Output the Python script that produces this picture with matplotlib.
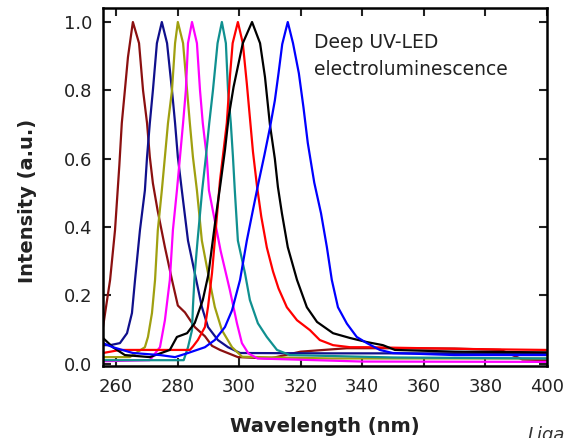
import matplotlib
matplotlib.use("Agg")
import matplotlib.pyplot as plt

# ---- data ----
maroon_x = [255.8, 258.1, 259.7, 261.1, 261.9, 262.9, 263.9, 265.5, 267.5, 268.8, 270.1, 271.0, 272.0,
            273.5, 275.9, 278.2, 280.1, 282.4, 285.6, 288.9, 291.2, 293.8, 299.6, 310, 320, 335, 350, 370, 385, 392, 400]
maroon_y = [0.107, 0.245, 0.391, 0.58, 0.704, 0.80, 0.897, 1.0, 0.938, 0.80, 0.704, 0.605, 0.528,
            0.45, 0.341, 0.245, 0.170, 0.150, 0.107, 0.080, 0.052, 0.040, 0.019, 0.015, 0.035, 0.045, 0.045, 0.044, 0.04, 0.012, 0.01]

navy_x = [255.8, 258.1, 261.3, 263.6, 265.2, 266.2, 267.8, 269.4, 270.1, 271.0, 272.0, 273.3, 274.9,
          276.6, 278.2, 279.2, 280.1, 281.4, 283.4, 285.6, 287.9, 289.9, 293.1, 296.4, 300.3, 330, 360, 400]
navy_y = [0.054, 0.054, 0.06, 0.089, 0.148, 0.245, 0.391, 0.507, 0.605, 0.704, 0.80, 0.938, 1.0,
          0.938, 0.80, 0.704, 0.605, 0.507, 0.36, 0.265, 0.166, 0.107, 0.069, 0.048, 0.031, 0.03, 0.03, 0.03]

olive_x = [255.8, 264.5, 269.4, 270.4, 271.7, 272.7, 273.6, 274.9, 275.9, 276.9, 278.2, 279.2, 280.1,
           281.8, 283.1, 284.0, 285.0, 286.3, 287.9, 289.9, 292.1, 294.4, 297.7, 301.0, 330, 400]
olive_y = [0.019, 0.019, 0.048, 0.078, 0.148, 0.245, 0.391, 0.507, 0.605, 0.704, 0.80, 0.938, 1.0,
           0.938, 0.80, 0.704, 0.605, 0.507, 0.36, 0.265, 0.166, 0.098, 0.048, 0.02, 0.015, 0.015]

magenta_x = [255.8, 271.0, 274.3, 275.9, 277.5, 278.5, 279.8, 280.8, 281.8, 282.7, 283.4, 284.7,
             286.3, 287.3, 288.2, 289.5, 290.2, 292.5, 294.0, 297.0, 299.3, 300.9, 303.0, 306.0, 340, 400]
magenta_y = [0.007, 0.01, 0.048, 0.127, 0.245, 0.391, 0.507, 0.605, 0.704, 0.80, 0.938, 1.0,
             0.938, 0.80, 0.704, 0.605, 0.507, 0.40, 0.33, 0.215, 0.118, 0.06, 0.03, 0.015, 0.006, 0.005]

teal_x = [255.8, 282.0, 283.4, 284.7, 285.0, 285.6, 286.5, 288.0, 289.2, 290.3, 291.5, 293.0, 294.4,
          295.7, 296.4, 297.3, 298.0, 298.6, 299.6, 301.9, 303.5, 306.1, 309.0, 312.3, 316.5, 350, 400]
teal_y = [0.01, 0.01, 0.048, 0.098, 0.166, 0.265, 0.36, 0.507, 0.605, 0.704, 0.80, 0.938, 1.0,
          0.938, 0.80, 0.704, 0.605, 0.507, 0.36, 0.265, 0.186, 0.118, 0.078, 0.04, 0.025, 0.018, 0.015]

red_x = [255.8, 261.3, 280.8, 284.0, 285.0, 286.6, 288.9, 289.9, 291.2, 292.1, 293.8, 294.7, 296.0,
         297.0, 297.9, 299.6, 301.2, 302.5, 303.5, 304.5, 305.8, 307.2, 309.0, 311.0, 312.8, 315.5, 318.8,
         323.0, 326.2, 330.5, 336.0, 341.5, 360, 380, 400]
red_y = [0.031, 0.04, 0.04, 0.04, 0.05, 0.069, 0.107, 0.166, 0.265, 0.36, 0.537, 0.605, 0.704,
         0.839, 0.938, 1.0, 0.938, 0.82, 0.72, 0.62, 0.52, 0.43, 0.34, 0.27, 0.22, 0.165, 0.127,
         0.098, 0.069, 0.054, 0.048, 0.048, 0.045, 0.042, 0.04]

black_x = [255.8, 259.0, 262.9, 271.0, 277.5, 279.8, 283.1, 285.6, 288.2, 290.0, 291.3, 292.6, 294.0,
           295.4, 296.6, 298.2, 301.2, 304.2, 306.8, 308.4, 310.0, 311.6, 312.6, 313.9, 315.8, 318.8,
           322.0, 325.3, 330.5, 336.0, 341.5, 346.7, 350.6, 370, 400]
black_y = [0.075, 0.048, 0.025, 0.019, 0.04, 0.078, 0.089, 0.119, 0.186, 0.26, 0.35, 0.44, 0.53,
           0.625, 0.722, 0.81, 0.938, 1.0, 0.938, 0.839, 0.70, 0.60, 0.517, 0.44, 0.341, 0.245,
           0.165, 0.122, 0.089, 0.075, 0.063, 0.054, 0.04, 0.035, 0.033]

blue_x = [255.8, 259.0, 265.5, 274.3, 279.2, 283.4, 288.9, 292.1, 295.4, 297.7, 300.3, 302.5, 304.5,
          306.3, 308.2, 310.0, 311.6, 312.8, 314.0, 315.8, 317.5, 319.4, 320.9, 322.3, 324.4, 326.6, 328.5,
          330.1, 332.1, 335.0, 338.2, 341.5, 345.7, 349.9, 370, 400]
blue_y = [0.06, 0.048, 0.031, 0.025, 0.019, 0.031, 0.048, 0.069, 0.107, 0.156, 0.245, 0.36, 0.45,
          0.53, 0.61, 0.69, 0.77, 0.85, 0.935, 1.0, 0.938, 0.85, 0.75, 0.646, 0.53, 0.44, 0.341,
          0.245, 0.165, 0.117, 0.078, 0.06, 0.04, 0.031, 0.025, 0.025]

series = [
    (maroon_x, maroon_y, "#8B1010"),
    (navy_x, navy_y, "#10108C"),
    (olive_x, olive_y, "#A0A010"),
    (magenta_x, magenta_y, "#FF00FF"),
    (teal_x, teal_y, "#109090"),
    (red_x, red_y, "#FF0000"),
    (black_x, black_y, "#000000"),
    (blue_x, blue_y, "#0000FF"),
]

x_ticks = [260, 280, 300, 320, 340, 360, 380, 400]
y_ticks = [0.0, 0.2, 0.4, 0.6, 0.8, 1.0]

fig = plt.figure(figsize=(5.66, 4.38), dpi=100)
ax = fig.add_axes([0.182, 0.1644, 0.7845, 0.8173])

for xs, ys, c in series:
    ax.plot(xs, ys, color=c, lw=1.6)

ax.set_xlim(255.8, 400)
ax.set_ylim(-0.007, 1.041)
ax.set_xticks(x_ticks)
ax.set_yticks(y_ticks)
ax.set_yticklabels([f"{v:.1f}" for v in y_ticks])
ax.tick_params(direction="in", length=6, width=1.5, top=True, right=True,
               labelsize=13, pad=8, colors="#222222")
ax.tick_params(axis="x", pad=9)
for s in ax.spines.values():
    s.set_linewidth(1.8)

ax.set_xlabel("Wavelength (nm)", fontsize=14, fontweight="bold", color="#222222")
ax.set_ylabel("Intensity (a.u.)", fontsize=14, fontweight="bold", color="#222222")
ax.xaxis.set_label_coords(0.5, -0.143)
ax.yaxis.set_label_coords(-0.148, 0.46)

ax.text(324.4, 0.968, "Deep UV-LED", fontsize=13.5, va="top", ha="left", color="#222222")
ax.text(324.4, 0.888, "electroluminescence", fontsize=13.5, va="top", ha="left", color="#222222")

fig.text(0.932, 0.028, "Liga", fontsize=13, style="italic", va="top", ha="left", color="#333333")

fig.savefig("out.png", dpi=100)
